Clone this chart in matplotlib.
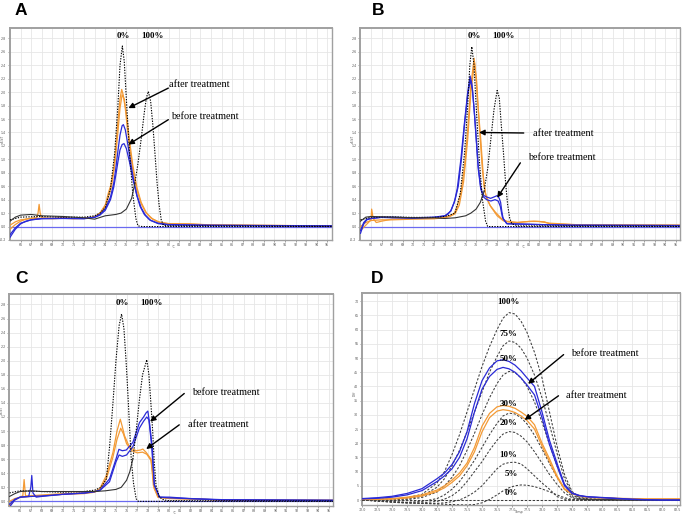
import matplotlib
matplotlib.use("Agg")
import matplotlib.pyplot as plt

# ---------------- Panel A (x: temperature in °C, y: -dF/dT, arbitrary units) ----------------
A_std0_x = [65, 66, 68, 70, 72, 73, 73.5, 74.0, 74.5, 74.9, 75.2, 75.4, 75.62, 75.8, 76.0, 76.3, 76.6, 76.9, 77.1, 77.5, 95.4]
A_std0_y = [0.5, 0.7, 0.75, 0.7, 0.7, 0.8, 1.0, 1.4, 2.8, 5.5, 9.0, 12.0, 13.43, 12.3, 9.5, 5.5, 2.5, 0.6, 0.05, 0.0, 0.0]
A_std100_x = [65, 65.5, 66, 67, 68, 70, 72, 73, 74, 75, 75.5, 76, 76.5, 76.8, 77.1, 77.4, 77.7, 77.9, 78.08, 78.3, 78.5, 78.7, 78.9, 79.1, 79.3, 79.5, 80, 82, 95.4]
A_std100_y = [0.4, 0.7, 0.85, 0.9, 0.8, 0.75, 0.65, 0.55, 0.8, 0.9, 1.0, 1.3, 2.1, 3.2, 4.7, 6.5, 8.5, 9.6, 10.05, 9.3, 7.6, 5.5, 3.3, 1.6, 0.5, 0.1, 0.05, 0.05, 0.02]
A_after1_x = [65.0, 65.5, 66, 66.5, 67, 67.5, 67.65, 67.75, 67.85, 68.0, 69, 70, 71, 72, 72.5, 73, 73.5, 74, 74.3, 74.5, 74.8, 75.0, 75.2, 75.4, 75.56, 75.7, 75.9, 76.1, 76.4, 76.7, 77.0, 77.4, 77.8, 78.3, 79, 80, 82, 84, 90, 95.4]
A_after1_y = [-0.2, 0.15, 0.4, 0.55, 0.62, 0.65, 1.0, 1.65, 1.0, 0.65, 0.62, 0.65, 0.6, 0.6, 0.65, 0.75, 1.0, 1.6, 2.5, 3.0, 4.2, 5.8, 7.8, 9.5, 10.2, 9.8, 8.8, 7.3, 5.4, 3.8, 2.7, 1.7, 1.1, 0.65, 0.35, 0.22, 0.2, 0.12, 0.08, 0.05]
A_after2_x = [65.0, 65.5, 66, 67, 68, 69, 70, 71, 72, 73, 73.5, 74, 74.3, 74.6, 74.9, 75.2, 75.4, 75.6, 75.8, 76.0, 76.3, 76.6, 77.0, 77.4, 77.9, 78.5, 79.2, 80, 82, 84, 90, 95.4]
A_after2_y = [0.1, 0.35, 0.5, 0.6, 0.62, 0.58, 0.62, 0.58, 0.62, 0.7, 0.95, 1.5, 2.2, 3.0, 4.6, 7.0, 8.8, 9.8, 9.5, 8.4, 6.4, 4.6, 2.9, 1.8, 1.0, 0.55, 0.3, 0.2, 0.18, 0.12, 0.08, 0.05]
A_before1_x = [65.0, 65.5, 66, 66.5, 67, 68, 70, 72, 73, 73.5, 74, 74.5, 74.8, 75.0, 75.2, 75.4, 75.6, 75.72, 75.9, 76.1, 76.4, 76.7, 77.0, 77.3, 77.7, 78.2, 79, 80, 84, 95.4]
A_before1_y = [-0.8, -0.2, 0.2, 0.4, 0.5, 0.6, 0.62, 0.6, 0.7, 0.9, 1.3, 2.2, 3.2, 4.3, 5.6, 6.8, 7.5, 7.58, 7.2, 6.3, 4.8, 3.4, 2.3, 1.5, 0.9, 0.5, 0.25, 0.15, 0.1, 0.05]
A_before2_x = [65.0, 65.5, 66, 67, 68, 70, 72, 73, 73.5, 74, 74.5, 74.8, 75.0, 75.2, 75.4, 75.6, 75.78, 76.0, 76.3, 76.6, 77.0, 77.4, 77.8, 78.3, 79, 80, 84, 95.4]
A_before2_y = [-0.6, -0.1, 0.25, 0.5, 0.58, 0.6, 0.58, 0.68, 0.85, 1.2, 2.0, 2.9, 3.8, 4.8, 5.7, 6.1, 6.17, 5.8, 4.8, 3.6, 2.3, 1.4, 0.85, 0.45, 0.22, 0.12, 0.08, 0.05]

# ---------------- Panel B ----------------
B_std0_x = [65, 66, 68, 70, 72, 73, 73.5, 74.0, 74.5, 74.9, 75.2, 75.4, 75.59, 75.8, 76.0, 76.3, 76.6, 76.9, 77.1, 77.5, 95.4]
B_std0_y = [0.5, 0.7, 0.72, 0.68, 0.68, 0.75, 0.85, 1.0, 2.5, 5.5, 9.0, 12.0, 13.38, 12.0, 9.0, 5.0, 2.0, 0.4, 0.0, 0.0, 0.0]
B_std100_x = [65, 65.5, 66, 68, 70, 72, 73, 74, 75, 75.5, 76.0, 76.4, 76.75, 77.1, 77.4, 77.7, 78.0, 78.2, 78.4, 78.6, 78.8, 79.0, 79.2, 79.4, 80, 95.4]
B_std100_y = [0.4, 0.7, 0.75, 0.7, 0.65, 0.65, 0.6, 0.65, 0.8, 1.0, 1.3, 1.8, 2.6, 4.3, 6.5, 8.7, 10.12, 9.6, 7.5, 5.5, 3.3, 1.6, 0.6, 0.2, 0.05, 0.02]
B_before1_x = [65, 65.3, 65.6, 66, 67, 68, 70, 72, 73, 73.3, 73.6, 73.92, 74.2, 74.55, 74.9, 75.2, 75.43, 75.6, 75.8, 75.97, 76.2, 76.44, 76.6, 76.75, 77.0, 77.38, 77.7, 78.0, 78.2, 78.33, 78.45, 78.58, 78.96, 80, 82, 85, 95.4]
B_before1_y = [-0.5, 0.2, 0.5, 0.6, 0.7, 0.7, 0.65, 0.7, 0.8, 0.9, 1.2, 1.8, 2.8, 5.0, 7.8, 10.0, 11.2, 10.6, 8.8, 7.0, 4.5, 2.9, 2.5, 2.3, 2.2, 2.1, 2.2, 2.3, 2.1, 1.8, 1.1, 0.55, 0.2, 0.2, 0.15, 0.1, 0.08]
B_before2_x = [65, 65.3, 65.6, 66, 67, 68, 70, 72, 73, 73.6, 74.0, 74.3, 74.6, 74.9, 75.2, 75.45, 75.65, 75.85, 76.0, 76.2, 76.44, 76.7, 77.0, 77.4, 77.8, 78.1, 78.3, 78.5, 78.9, 80, 85, 95.4]
B_before2_y = [-0.3, 0.3, 0.55, 0.6, 0.68, 0.65, 0.62, 0.68, 0.78, 1.15, 2.0, 3.0, 5.0, 7.6, 9.8, 10.9, 10.2, 8.3, 6.6, 4.3, 2.8, 2.2, 2.0, 1.9, 2.0, 1.9, 1.5, 0.7, 0.22, 0.18, 0.1, 0.07]
B_after1_x = [65, 65.5, 66, 66.06, 66.2, 66.5, 67, 68, 70, 72, 73, 73.5, 73.92, 74.2, 74.55, 74.9, 75.18, 75.5, 75.81, 76.0, 76.13, 76.44, 76.75, 77.0, 77.38, 78.0, 78.6, 79.9, 80.5, 81.5, 82.5, 83, 86, 95.4]
B_after1_y = [-0.3, 0.1, 0.5, 1.3, 0.6, 0.3, 0.4, 0.55, 0.6, 0.6, 0.7, 0.8, 1.0, 1.5, 2.5, 4.5, 7.0, 10.5, 12.52, 11.0, 9.4, 6.5, 3.0, 2.1, 1.5, 0.8, 0.42, 0.3, 0.35, 0.4, 0.35, 0.2, 0.12, 0.1]
B_after2_x = [65, 65.5, 66, 67, 68, 70, 72, 73, 73.5, 74.0, 74.4, 74.8, 75.2, 75.5, 75.85, 76.05, 76.3, 76.6, 76.9, 77.3, 77.8, 78.4, 79.0, 80, 81, 82, 83, 86, 95.4]
B_after2_y = [0.0, 0.3, 0.45, 0.5, 0.5, 0.55, 0.58, 0.65, 0.75, 0.95, 1.6, 3.3, 6.5, 10.0, 12.2, 10.8, 7.5, 4.2, 2.4, 1.6, 1.1, 0.6, 0.35, 0.3, 0.38, 0.38, 0.25, 0.12, 0.1]

# ---------------- Panel C ----------------
C_std0_x = [65, 66, 68, 70, 72, 73, 73.6, 74.1, 74.41, 74.72, 75.0, 75.3, 75.53, 75.75, 75.95, 76.12, 76.3, 76.44, 76.65, 76.9, 77.1, 95.4]
C_std0_y = [0.6, 0.75, 0.7, 0.65, 0.7, 0.8, 1.0, 1.6, 3.95, 7.0, 10.0, 12.5, 13.32, 12.3, 10.0, 7.7, 5.0, 3.0, 1.3, 0.19, 0.0, 0.0]
C_std100_x = [65, 65.5, 66, 67, 68, 70, 72, 73, 74, 75, 75.5, 76.0, 76.3, 76.59, 76.9, 77.21, 77.5, 77.9, 78.1, 78.3, 78.46, 78.6, 78.77, 79.08, 79.5, 80, 95.4]
C_std100_y = [0.35, 0.55, 0.7, 0.75, 0.7, 0.7, 0.7, 0.7, 0.75, 0.85, 1.0, 1.5, 2.1, 3.0, 5.0, 7.25, 9.0, 10.07, 9.0, 6.8, 4.9, 2.8, 1.13, 0.3, 0.1, 0.05, 0.02]
C_after1_x = [65, 65.5, 66.0, 66.25, 66.37, 66.5, 67, 68, 70, 72, 73, 73.48, 74.1, 74.72, 75.1, 75.41, 75.6, 75.81, 76.28, 76.9, 77.3, 77.53, 77.84, 78.3, 78.4, 78.52, 78.93, 79.7, 81, 85, 95.4]
C_after1_y = [-0.3, 0.1, 0.3, 0.4, 1.55, 0.4, 0.4, 0.45, 0.55, 0.6, 0.7, 0.9, 1.84, 3.48, 5.0, 5.84, 5.3, 4.66, 3.84, 3.6, 3.65, 3.72, 3.48, 3.0, 2.2, 1.13, 0.3, 0.23, 0.2, 0.1, 0.08]
C_after2_x = [65, 65.5, 66, 67, 68, 70, 72, 73, 73.5, 74.1, 74.7, 75.1, 75.45, 75.7, 76.0, 76.5, 77.0, 77.5, 77.9, 78.3, 78.45, 78.6, 79.0, 80, 85, 95.4]
C_after2_y = [0.0, 0.2, 0.3, 0.35, 0.4, 0.5, 0.55, 0.65, 0.85, 1.6, 3.1, 4.4, 5.2, 4.8, 4.1, 3.6, 3.45, 3.5, 3.35, 2.9, 2.0, 0.9, 0.28, 0.2, 0.1, 0.07]
C_before1_x = [65, 65.5, 66, 66.8, 67.0, 67.09, 67.2, 67.5, 68, 70, 72, 73, 73.5, 74.4, 75.0, 75.28, 75.6, 75.97, 76.59, 77.21, 77.6, 77.84, 78.0, 78.15, 78.4, 78.62, 79.08, 80, 82, 85, 95.4]
C_before1_y = [-0.4, 0.1, 0.3, 0.35, 1.0, 1.84, 0.6, 0.3, 0.35, 0.5, 0.6, 0.7, 0.8, 1.6, 3.0, 3.7, 3.6, 3.65, 4.19, 5.6, 6.0, 6.3, 6.42, 5.6, 3.95, 1.13, 0.3, 0.3, 0.2, 0.12, 0.08]
C_before2_x = [65, 65.5, 66, 67, 68, 70, 72, 73, 73.5, 74.4, 75.0, 75.3, 75.6, 76.0, 76.6, 77.2, 77.6, 77.9, 78.1, 78.35, 78.6, 79.1, 80, 85, 95.4]
C_before2_y = [-0.2, 0.15, 0.3, 0.35, 0.38, 0.5, 0.58, 0.68, 0.78, 1.4, 2.8, 3.3, 3.2, 3.3, 3.9, 5.2, 5.7, 6.0, 5.8, 4.0, 1.2, 0.3, 0.25, 0.1, 0.07]

# ---------------- Panel D (difference plot; x: tick index of normalised temperature) ----------------
D_x = [0, 1, 2, 3, 4, 5, 5.5, 6, 6.5, 7, 7.5, 8, 8.5, 9, 9.4, 9.8, 10.2, 10.6, 11, 11.5, 12, 12.5, 13, 13.5, 14, 14.5, 15, 16, 17, 18, 19, 20, 21.2]
D_std = {
    "100%": [0.5, 0.3, 0.3, 0.8, 2, 6, 10, 16, 23, 31, 39, 47, 54, 60, 64, 66, 65.5, 63, 59, 52, 43, 31, 19, 9, 3, 1, 0.5, 0.3, 0.2, 0, 0, 0, 0],
    "75%": [0.2, 0.1, 0, 0.4, 1.4, 4.5, 7.5, 12, 17.5, 24, 31, 38, 45, 50.5, 54.3, 56, 55.5, 53.5, 50, 44, 36, 26.5, 16.5, 7.5, 2.5, 0.7, 0.3, 0.2, 0.1, 0, 0, 0, 0],
    "50%": [0, 0, -0.2, 0.1, 0.9, 2.8, 5, 8, 12, 17.5, 23.5, 30, 36, 41, 44, 45.3, 44.9, 43, 40, 34.5, 27.5, 19.5, 12, 5.5, 1.8, 0.5, 0.2, 0.1, 0, 0, 0, 0, 0],
    "30%": [0, -0.3, -0.6, -0.8, -0.5, 0.5, 1.8, 3.8, 6.5, 10, 14, 18.5, 23, 27, 29.6, 30.6, 30.3, 29, 26.8, 22.8, 18, 12.8, 8, 3.8, 1.2, 0.3, 0.1, 0, 0, 0, 0, 0, 0],
    "20%": [0, -0.4, -0.8, -1.1, -1.0, -0.5, 0.3, 1.5, 3.5, 6.5, 10, 13.5, 17.5, 21, 23.2, 24.1, 23.8, 22.5, 20.5, 17, 13, 9, 5.5, 2.5, 0.8, 0.2, 0, 0, 0, 0, 0, 0, 0],
    "10%": [0, -0.3, -0.7, -1.0, -1.2, -1.2, -1.0, -0.6, 0, 1.2, 2.8, 5.0, 8.0, 11.0, 12.6, 13.2, 13.3, 12.7, 11.0, 8.5, 6.0, 3.8, 1.2, 0.3, 0, 0, 0, 0, 0, 0, 0, 0, 0],
    "5%": [0, -0.3, -0.6, -0.9, -1.2, -1.4, -1.5, -1.6, -1.7, -1.75, -1.6, -1.0, 0.2, 1.8, 3.2, 4.3, 5.0, 5.3, 5.2, 4.7, 3.9, 2.9, 1.8, 0.8, 0.2, 0, 0, 0, 0, 0, 0, 0, 0],
    "0%": [0, 0, 0, 0, 0, 0, 0, 0, 0, 0, 0, 0, 0, 0, 0, 0, 0, 0, 0, 0, 0, 0, 0, 0, 0, 0, 0, 0, 0, 0, 0, 0, 0],
}
D_std_label_y = {"100%": 69.6, "75%": 58.6, "50%": 49.6, "30%": 33.8, "20%": 27.1, "10%": 15.9, "5%": 9.1, "0%": 2.4}
D_before1 = [0.5, 0.8, 1.3, 2.3, 4, 7.5, 9.5, 12.5, 17, 24, 34, 42, 46.5, 49, 49.4, 48.8, 47.5, 45.5, 43, 40, 31, 21, 13, 5.5, 2.5, 1.6, 1.2, 0.9, 0.6, 0.3, 0.1, 0, 0]
D_before2 = [0.4, 0.6, 1, 1.8, 3.3, 6.5, 8.5, 11, 15, 21.5, 31, 39, 43.5, 46, 46.7, 46.2, 45, 43, 40.5, 37, 29, 19.5, 12, 5, 2.3, 1.5, 1.1, 0.8, 0.5, 0.2, 0.1, 0, 0]
D_after1 = [0.3, 0.3, 0.5, 1, 1.8, 3.5, 5, 7, 9.5, 13, 18.5, 26, 30.5, 32.8, 33.3, 33, 32.3, 31, 29.5, 26.5, 20, 14.5, 8.5, 4, 2.4, 1.5, 1, 0.8, 0.6, 0.5, 0.4, 0.4, 0.4]
D_after2 = [0.2, 0.2, 0.3, 0.7, 1.4, 3, 4.3, 6.2, 8.5, 12, 17, 24, 29, 31.3, 31.8, 31.5, 30.8, 29.6, 28, 25, 19, 13.5, 8, 3.7, 2.2, 1.4, 0.9, 0.7, 0.5, 0.4, 0.3, 0.3, 0.3]

# tick positions / labels
T_ticks = list(range(66, 96))
D_xticks = list(range(0, 22))
D_xticklabels = ["%.1f" % (72.0 + 0.5 * i) for i in D_xticks]
D_yticks = list(range(0, 75, 5))

ORANGE = "#f39a35"
BLUE = "#2a2ad6"
BASEBLUE = "#6a6af0"
SERIF = "Liberation Serif"

fig = plt.figure(figsize=(6.85, 5.16), dpi=100)
W, H = 685.0, 516.0

def axes_px(l, t, r, b):
    return fig.add_axes([l / W, 1 - b / H, (r - l) / W, (b - t) / H])

def style(ax):
    ax.set_facecolor("white")
    ax.grid(True, color="#e6e6e6", lw=0.6)
    ax.set_axisbelow(True)
    for s in ax.spines.values():
        s.set_color("#a0a0a0")
        s.set_linewidth(1.0)
    ax.spines["top"].set_linewidth(1.4)
    ax.spines["left"].set_linewidth(1.4)
    ax.tick_params(labelsize=2.3, colors="#555555", length=1.5, width=0.4, pad=1)

def small_labels(ax, xl, yl, x_between, y_between, below=5.5):
    # tiny axis titles placed in the gaps between tick labels
    ax.set_xlabel(xl, fontsize=2.3, color="#555555")
    ax.set_ylabel(yl, fontsize=2.2, color="#555555")
    w_px = ax.get_position().width * W
    h_px = ax.get_position().height * H
    x0, x1 = ax.get_xlim()
    y0, y1 = ax.get_ylim()
    ax.xaxis.set_label_coords((x_between - x0) / (x1 - x0), -below / h_px)
    ax.yaxis.set_label_coords(-5.0 / w_px, (y_between - y0) / (y1 - y0))

def melt_panel(ax, std0, std100, afters, befores, ylim, yticks):
    style(ax)
    ax.set_xlim(64.95, 95.4)
    ax.set_ylim(*ylim)
    ax.set_xticks(T_ticks)
    ax.set_xticklabels([str(t) for t in T_ticks])
    ax.set_yticks(yticks)
    ax.set_yticklabels(["%.1f" % (v * 0.2) for v in yticks])
    ax.axhline(0, color=BASEBLUE, lw=0.9, zorder=2)
    for xs, ys in afters:
        ax.plot(xs, ys, color=ORANGE, lw=0.9, zorder=3)
    for xs, ys in befores:
        ax.plot(xs, ys, color=BLUE, lw=0.9, zorder=4)
    ax.plot(std0[0], std0[1], color="black", lw=0.8, ls=(0, (1.2, 1.2)), zorder=5)
    xs, ys = std100
    sx = [x for x in xs if x <= 76.8]
    sy = ys[:len(sx)]
    ax.plot(sx, sy, color="#333333", lw=0.8, zorder=5)
    ax.plot(xs[len(sx) - 1:], ys[len(sx) - 1:], color="black", lw=0.8, ls=(0, (1.2, 1.2)), zorder=5)

def note(ax, text, xy, xytext, tx, ty):
    ax.annotate("", xy=xy, xytext=xytext,
                arrowprops=dict(arrowstyle="-|>", color="black", lw=1.0, mutation_scale=8,
                                shrinkA=0, shrinkB=0), zorder=10)
    ax.text(tx, ty, text, fontsize=7.4, family=SERIF, ha="left", va="center", zorder=10)

def pct(ax, x, y, s):
    ax.text(x, y, s, fontsize=6.4, family=SERIF, fontweight="bold", ha="center", va="center", zorder=10)

# ---- A ----
axA = axes_px(9.5, 28, 331.5, 240)
melt_panel(axA, (A_std0_x, A_std0_y), (A_std100_x, A_std100_y),
           [(A_after1_x, A_after1_y), (A_after2_x, A_after2_y)],
           [(A_before1_x, A_before1_y), (A_before2_x, A_before2_y)],
           (-1.0, 14.77), list(range(-1, 15)))
small_labels(axA, "°C", "dF/dT", 80.5, 6.5)
pct(axA, 75.68, 14.17, "0%")
pct(axA, 78.46, 14.17, "100%")
note(axA, "after treatment", (76.19, 8.81), (79.97, 10.3), 80.04, 10.54)
note(axA, "before treatment", (76.19, 6.1), (79.97, 7.95), 80.2, 8.2)

# ---- B ----
axB = axes_px(360, 28, 680, 240)
melt_panel(axB, (B_std0_x, B_std0_y), (B_std100_x, B_std100_y),
           [(B_after1_x, B_after1_y), (B_after2_x, B_after2_y)],
           [(B_before1_x, B_before1_y), (B_before2_x, B_before2_y)],
           (-1.0, 14.77), list(range(-1, 15)))
small_labels(axB, "°C", "dF/dT", 80.5, 6.5)
pct(axB, 75.81, 14.17, "0%")
pct(axB, 78.6, 14.17, "100%")
note(axB, "after treatment", (76.28, 7.0), (80.53, 6.96), 81.43, 6.9)
note(axB, "before treatment", (78.01, 2.15), (80.21, 4.74), 80.97, 5.16)

# ---- C ----
axC = axes_px(9, 293.5, 333, 506)
melt_panel(axC, (C_std0_x, C_std0_y), (C_std100_x, C_std100_y),
           [(C_after1_x, C_after1_y), (C_after2_x, C_after2_y)],
           [(C_before1_x, C_before1_y), (C_before2_x, C_before2_y)],
           (-0.33, 14.78), list(range(0, 15)))
small_labels(axC, "°C", "dF/dT", 80.5, 6.5, below=5.0)
pct(axC, 75.56, 14.07, "0%")
pct(axC, 78.37, 14.07, "100%")
note(axC, "before treatment", (78.21, 5.67), (81.42, 7.67), 82.2, 7.72)
note(axC, "after treatment", (77.84, 3.72), (80.95, 5.44), 81.73, 5.48)

# ---- D ----
axD = axes_px(362, 293, 680, 505)
style(axD)
axD.set_xlim(0, 21.2)
axD.set_ylim(-1.76, 72.9)
axD.set_xticks(D_xticks)
axD.set_xticklabels(D_xticklabels)
axD.set_yticks(D_yticks)
axD.set_yticklabels([str(v) for v in D_yticks])
for name, ys in D_std.items():
    axD.plot(D_x, ys, color="#3c3c3c", lw=0.75, ls=(0, (2.2, 1.6)), zorder=3)
for ys in (D_after1, D_after2):
    axD.plot(D_x, ys, color=ORANGE, lw=0.9, zorder=4)
for ys in (D_before1, D_before2):
    axD.plot(D_x, ys, color=BLUE, lw=0.9, zorder=4)
for name, yl in D_std_label_y.items():
    xl = 9.96 if name in ("5%", "0%") else 9.75
    pct(axD, xl, yl, name)
note(axD, "before treatment", (11.07, 40.9), (13.44, 51.2), 13.96, 51.5)
note(axD, "after treatment", (10.84, 28.2), (13.1, 36.7), 13.6, 36.7)
small_labels(axD, "Temp", "Diff", 10.5, 37.5)

# panel letters
for lab, px, py in (("A", 15, 3), ("B", 372, 3), ("C", 15, 271), ("D", 371, 271)):
    fig.text(px / W, 1 - py / H, lab, fontsize=12.5, fontweight="bold",
             family="Liberation Sans", ha="left", va="top")

fig.savefig("out.png", dpi=100)
